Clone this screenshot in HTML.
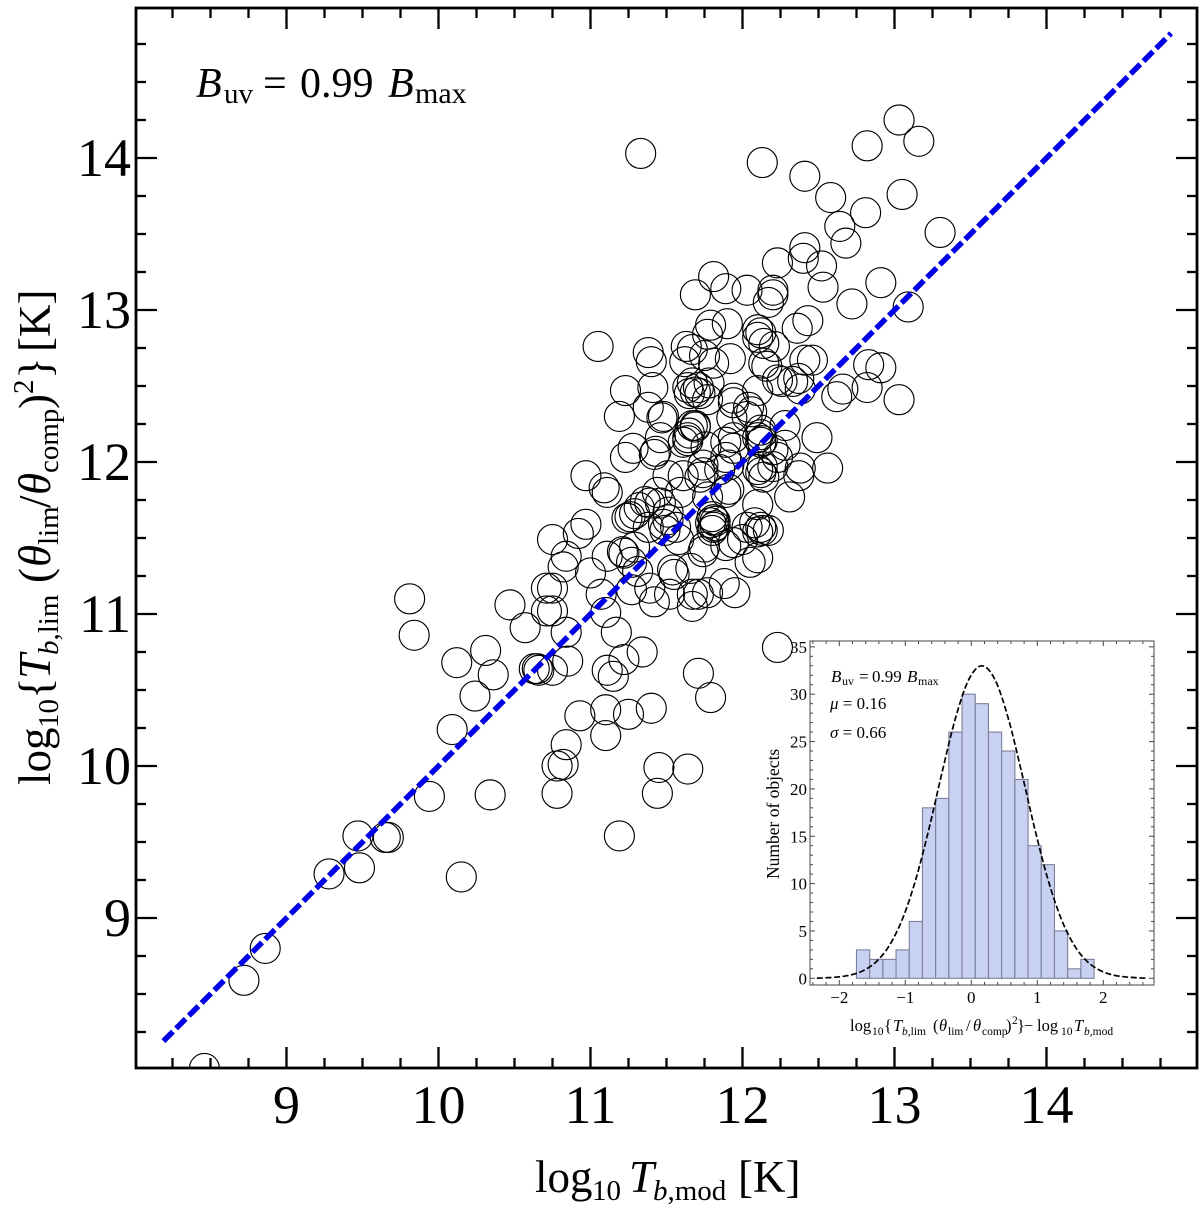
<!DOCTYPE html>
<html lang="en">
<head>
<meta charset="utf-8">
<title>Brightness temperature scatter</title>
<style>
html,body{margin:0;padding:0;background:#fff;width:1200px;height:1205px;overflow:hidden}
svg{display:block;font-family:"Liberation Serif",serif;fill:#000}
</style>
</head>
<body>
<svg id="chart" width="1200" height="1205" viewBox="0 0 1200 1205" xmlns="http://www.w3.org/2000/svg">
  <defs><clipPath id="plot-clip"><rect x="136" y="8" width="1061" height="1060"/></clipPath></defs>
  <rect width="1200" height="1205" fill="#fff"/>
  <g id="points" clip-path="url(#plot-clip)" fill="none" stroke="#000" stroke-width="1.15"></g>
  <path id="fit" fill="none" stroke="#0000e6" stroke-width="5.5" stroke-dasharray="13.5 4.5"/>
  <g id="main-ticks" stroke="#000" stroke-width="2.3"></g>
  <rect x="136" y="8" width="1061" height="1060" fill="none" stroke="#000" stroke-width="2.8"/>
  <g id="main-labels" font-size="54"></g>

  <text y="97" font-size="42"><tspan x="196" font-style="italic">B</tspan><tspan x="224" y="103" font-size="29">uv</tspan><tspan x="263" y="97">=</tspan><tspan x="300">0.99</tspan><tspan x="388" font-style="italic">B</tspan><tspan x="415" y="103" font-size="30">max</tspan></text>

  <text y="1192" font-size="45"><tspan x="535">log</tspan><tspan x="592" y="1200" font-size="29">10</tspan><tspan x="629" y="1192" font-style="italic">T</tspan><tspan x="653" y="1200" font-size="29"><tspan font-style="italic">b</tspan>,mod</tspan><tspan x="738" y="1192">[K]</tspan></text>

  <text transform="translate(50,785) rotate(-90)" font-size="45"><tspan x="0" y="0">log</tspan><tspan x="57" y="8" font-size="29">10</tspan><tspan x="86" y="0">{</tspan><tspan x="106" font-style="italic">T</tspan><tspan x="130" y="8" font-size="29"><tspan font-style="italic">b</tspan>,lim</tspan><tspan x="202" y="0">(</tspan><tspan x="218" font-style="italic">θ</tspan><tspan x="240" y="8" font-size="29">lim</tspan><tspan x="277" y="0">/</tspan><tspan x="290" font-style="italic">θ</tspan><tspan x="312" y="8" font-size="29">comp</tspan><tspan x="376" y="0">)</tspan><tspan x="391" y="-17" font-size="29">2</tspan><tspan x="406" y="0">}</tspan><tspan x="433">[K]</tspan></text>

  <g id="inset">
    <rect x="810" y="641" width="344" height="344" fill="#fff"/>
    <g id="bars" fill="#c9d1f2" stroke="#7b8098" stroke-width="1.1"></g>
    <path id="gauss" fill="none" stroke="#000" stroke-width="1.7" stroke-dasharray="6 2.6"/>
    <g id="inset-ticks" stroke="#444" stroke-width="1"></g>
    <rect x="810" y="641" width="344" height="344" fill="none" stroke="#555" stroke-width="1.1"/>
    <g id="inset-labels" font-size="17"></g>
    <text y="682" font-size="17"><tspan x="831" font-style="italic">B</tspan><tspan x="842" y="685" font-size="12">uv</tspan><tspan x="859" y="682">=</tspan><tspan x="872">0.99</tspan><tspan x="907" font-style="italic">B</tspan><tspan x="918" y="685" font-size="12">max</tspan></text>
    <text x="830" y="709" font-size="17"><tspan font-style="italic">μ</tspan> = 0.16</text>
    <text x="830" y="738" font-size="17"><tspan font-style="italic">σ</tspan> = 0.66</text>
    <text transform="translate(779,879) rotate(-90)" font-size="17.5">Number of objects</text>
    <text y="1031" font-size="16.5"><tspan x="850">log</tspan><tspan x="872" y="1035" font-size="11.5">10</tspan><tspan x="884" y="1031">{</tspan><tspan x="893" font-style="italic">T</tspan><tspan x="902" y="1035" font-size="11.5"><tspan font-style="italic">b</tspan>,lim</tspan><tspan x="933" y="1031">(</tspan><tspan x="939" font-style="italic">θ</tspan><tspan x="948" y="1035" font-size="11.5">lim</tspan><tspan x="966" y="1031">/</tspan><tspan x="973" font-style="italic">θ</tspan><tspan x="982" y="1035" font-size="11.5">comp</tspan><tspan x="1006" y="1031">)</tspan><tspan x="1012" y="1024" font-size="11.5">2</tspan><tspan x="1017" y="1031">}</tspan><tspan x="1024">−</tspan><tspan x="1037">log</tspan><tspan x="1061" y="1035" font-size="11.5">10</tspan><tspan x="1074" y="1031" font-style="italic">T</tspan><tspan x="1084" y="1035" font-size="11.5"><tspan font-style="italic">b</tspan>,mod</tspan></text>
  </g>
</svg>
<script>
// Scatter data: log10 Tb,mod and log10 Tb,lim for each object
var logTbMod = [
8.46,8.72,8.86,9.28,9.48,9.47,9.65,9.67,10.15,9.94,
10.34,11.19,10.78,11.44,11.45,11.64,10.78,10.82,10.84,10.93,
11.10,11.10,11.25,11.40,10.09,10.24,10.36,10.31,10.12,9.84,
9.81,10.47,10.57,10.63,10.65,10.66,10.75,10.85,10.84,10.71,
10.75,10.71,10.75,11.07,11.10,11.17,11.22,11.34,11.11,11.15,
11.71,11.79,12.23,11.00,10.75,10.92,10.97,10.84,10.82,11.11,
11.21,11.22,11.29,10.97,11.09,11.11,11.23,11.28,11.05,11.24,
11.29,11.36,11.44,11.27,11.39,11.42,11.52,11.27,11.31,11.55,
11.66,11.74,11.67,11.71,11.67,11.77,11.88,11.95,11.54,11.38,
11.48,11.51,11.49,11.58,11.56,11.51,11.80,11.81,11.82,11.81,
11.80,11.79,11.82,11.75,11.89,11.94,12.05,12.10,12.13,12.10,
12.12,12.03,12.10,12.08,12.00,12.17,12.31,12.56,12.49,12.37,
12.38,12.28,12.28,12.12,12.12,12.03,11.94,12.10,12.12,12.14,
12.13,12.20,12.23,12.20,12.10,12.13,12.12,11.89,11.74,11.91,
11.89,11.91,11.46,11.69,11.65,11.43,11.42,11.51,11.61,11.74,
11.76,11.94,11.93,11.89,11.67,11.69,11.64,11.64,11.61,11.46,
11.32,11.26,11.39,11.59,11.77,11.85,11.94,11.72,11.38,11.19,
11.47,11.48,11.23,11.41,11.65,11.69,11.72,11.77,11.64,11.67,
11.71,11.78,11.81,11.89,11.69,12.03,11.79,11.90,11.77,11.63,
11.67,11.62,11.75,11.81,11.92,11.38,11.40,12.10,12.12,12.10,
12.14,12.21,12.36,12.43,12.14,12.16,12.41,12.46,12.23,12.33,
12.26,12.37,12.38,12.10,11.94,12.04,12.06,12.66,12.83,12.91,
12.82,12.62,13.03,12.72,12.91,13.09,12.20,12.17,12.20,12.23,
12.41,12.40,12.52,12.53,12.68,12.64,12.58,12.81,13.05,13.30,
12.41,12.82,13.03,13.16,11.33,12.13
];
var logTbLim = [
8.01,8.59,8.80,9.29,9.33,9.54,9.53,9.53,9.27,9.80,
9.81,9.54,9.82,9.82,9.99,9.98,10.00,10.01,10.14,10.33,
10.37,10.20,10.34,10.38,10.24,10.46,10.60,10.76,10.68,10.86,
11.10,11.06,10.91,10.64,10.64,10.63,10.63,10.69,10.88,11.17,
11.17,11.02,11.02,11.13,11.01,10.88,10.70,10.75,10.63,10.59,
10.61,10.45,10.78,11.27,11.49,11.53,11.59,11.38,11.31,11.38,
11.41,11.40,11.44,11.91,11.83,11.80,12.03,12.09,12.76,11.63,
11.66,11.74,11.80,11.16,11.17,11.08,11.13,11.34,11.28,11.26,
11.30,11.41,11.13,11.13,11.05,11.14,11.20,11.14,11.29,11.57,
11.59,11.62,11.55,11.49,11.57,11.67,11.64,11.62,11.61,11.57,
11.55,11.60,11.58,11.44,11.45,11.47,11.34,11.37,11.55,11.54,
11.57,11.57,11.72,11.60,11.49,11.55,11.77,11.96,12.16,11.91,
11.96,12.11,12.24,12.21,12.13,12.30,12.16,11.95,11.93,11.90,
11.97,11.97,12.03,12.08,12.16,12.14,12.18,12.03,11.98,11.98,
11.80,11.82,12.16,12.23,12.19,12.07,12.05,11.91,11.91,11.93,
12.10,12.39,12.29,12.13,12.24,12.24,12.14,12.16,12.13,11.73,
11.70,11.64,11.73,11.80,11.77,11.95,12.09,11.90,12.36,12.30,
12.29,12.30,12.47,12.49,12.45,12.46,12.45,12.41,12.49,12.52,
12.49,12.52,13.22,13.14,13.10,13.13,12.90,12.91,12.84,12.76,
12.74,12.66,12.70,12.65,12.68,12.72,12.66,12.87,12.85,12.82,
12.78,12.76,12.88,12.93,12.65,12.63,12.67,12.67,12.54,12.53,
12.53,12.55,12.48,12.47,12.42,12.36,12.33,12.48,12.64,12.62,
12.49,12.43,12.41,13.04,13.18,13.02,13.10,13.05,13.13,13.31,
13.41,13.34,13.29,13.15,13.44,13.55,13.74,13.64,13.76,13.51,
13.88,14.08,14.25,14.11,14.03,13.97
];
var unityLine = [8.19, 14.82];
var mainTickLabels = [9, 10, 11, 12, 13, 14];

// Inset histogram data
var binStart = -1.74;
var binWidth = 0.2;
var binCounts = [3, 2, 2, 3, 6, 18, 19, 26, 30, 29, 26, 24, 21, 14, 12, 5, 1, 2];
var curveX = [-2.34,-2.24,-2.04,-1.84,-1.64,-1.44,-1.24,-1.04,-0.84,-0.64,-0.44,-0.24,-0.04,0.16,0.36,0.56,0.76,0.96,1.16,1.36,1.56,1.76,1.96,2.16,2.36,2.56,2.66];
var curveY = [0.02,0.04,0.13,0.33,0.80,1.75,3.48,6.32,10.47,15.83,21.83,27.46,31.52,33,31.52,27.46,21.83,15.83,10.47,6.32,3.48,1.75,0.80,0.33,0.13,0.04,0.02];
var insetXTickLabels = [-2, -1, 0, 1, 2];
var insetYTickLabels = [0, 5, 10, 15, 20, 25, 30, 35];

// Axis functions
function fx(v){ return 286.5 + (v - 9) * 152; }
function fy(v){ return 918 - (v - 9) * 152; }
function ix(v){ return 971.3 + v * 66; }
function iy(v){ return 978.3 - v * 9.47; }

var NS = 'http://www.w3.org/2000/svg';
function mk(tag, parentId){
  var el = document.createElementNS(NS, tag);
  document.getElementById(parentId).appendChild(el);
  return el;
}
function tick(parentId, x1, y1, x2, y2, name){
  var t = mk('line', parentId);
  t.setAttribute('x1', x1); t.setAttribute('y1', y1);
  t.setAttribute('x2', x2); t.setAttribute('y2', y2);
  
  
}
function label(parentId, x, y, anchor, str, name){
  var t = mk('text', parentId);
  t.setAttribute('x', x); t.setAttribute('y', y);
  t.setAttribute('text-anchor', anchor);
  t.textContent = str;
  
  
}

// Scatter circles
logTbMod.forEach(function(v, i){
  var c = mk('circle', 'points');
  c.setAttribute('cx', fx(v));
  c.setAttribute('cy', fy(logTbLim[i]));
  c.setAttribute('r', 15);
  
  
});

// Unity line
document.getElementById('fit').setAttribute('d',
  'M' + fx(unityLine[0]) + ' ' + fy(unityLine[0]) + 'L' + fx(unityLine[1]) + ' ' + fy(unityLine[1]));

// Main ticks
for (var k = 0; k <= 27; k++) {
  var val = 8.25 + k * 0.25;
  var major = (k + 1) % 4 === 0;
  var len = major ? 21 : 10;
  if (fx(val) < 1195) {
    tick('main-ticks', fx(val), 1068, fx(val), 1068 - len, 'x-tick-bottom');
    tick('main-ticks', fx(val), 8, fx(val), 8 + len, 'x-tick-top');
  }
  if (fy(val) > 10) {
    tick('main-ticks', 136, fy(val), 136 + len, fy(val), 'y-tick-left');
    tick('main-ticks', 1197, fy(val), 1197 - len, fy(val), 'y-tick-right');
  }
}
mainTickLabels.forEach(function(v){
  label('main-labels', fx(v), 1123, 'middle', String(v), 'x-tick-label');
  label('main-labels', 131, fy(v) + 18, 'end', String(v), 'y-tick-label');
});

// Histogram bars
binCounts.forEach(function(c, i){
  var b = mk('rect', 'bars');
  var x0 = ix(binStart + i * binWidth);
  b.setAttribute('x', x0);
  b.setAttribute('y', iy(c));
  b.setAttribute('width', ix(binStart + (i + 1) * binWidth) - x0);
  b.setAttribute('height', iy(0) - iy(c));
  
  
});

// Gaussian curve (smoothed through sampled values)
(function(){
  var p = curveX.map(function(x, i){ return [ix(x), iy(curveY[i])]; });
  var d = 'M' + p[0][0] + ' ' + p[0][1];
  for (var i = 0; i < p.length - 1; i++) {
    var a = p[Math.max(i - 1, 0)], b = p[i], c = p[i + 1], e = p[Math.min(i + 2, p.length - 1)];
    d += 'C' + (b[0] + (c[0] - a[0]) / 6) + ' ' + (b[1] + (c[1] - a[1]) / 6) + ' ' +
         (c[0] - (e[0] - b[0]) / 6) + ' ' + (c[1] - (e[1] - b[1]) / 6) + ' ' + c[0] + ' ' + c[1];
  }
  document.getElementById('gauss').setAttribute('d', d);
})();

// Inset ticks
for (var m = -12; m <= 13; m++) {
  var xv = m * 0.2;
  var xMajor = m % 5 === 0;
  var xl = xMajor ? 5 : 3;
  tick('inset-ticks', ix(xv), 985, ix(xv), 985 - xl, 'inset-x-tick-bottom');
  tick('inset-ticks', ix(xv), 641, ix(xv), 641 + xl, 'inset-x-tick-top');
}
for (var n = 0; n <= 35; n++) {
  var yMajor = n % 5 === 0;
  var yl = yMajor ? 5 : 3;
  tick('inset-ticks', 810, iy(n), 810 + yl, iy(n), 'inset-y-tick-left');
  tick('inset-ticks', 1154, iy(n), 1154 - yl, iy(n), 'inset-y-tick-right');
}
insetXTickLabels.forEach(function(v){
  label('inset-labels', ix(v), 1003, 'middle', (v < 0 ? '−' : '') + Math.abs(v), 'inset-x-tick-label');
});
insetYTickLabels.forEach(function(v){
  label('inset-labels', 807, iy(v) + 6, 'end', String(v), 'inset-y-tick-label');
});
</script>
</body>
</html>
